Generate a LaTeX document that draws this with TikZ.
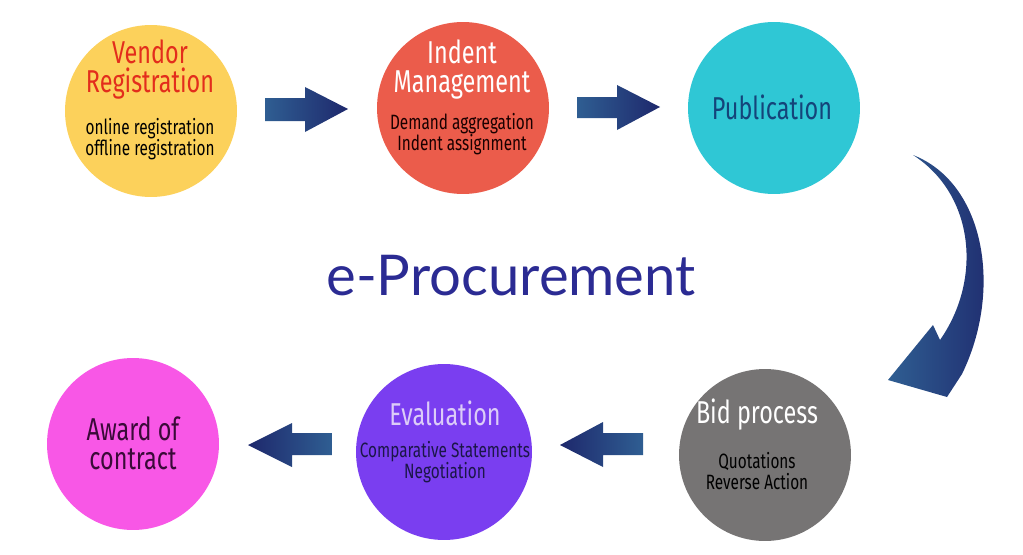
\documentclass[tikz,border=0pt]{standalone}
\usepackage{fontspec}
\usetikzlibrary{}
\newfontfamily\condfont[FakeStretch=0.74]{Fira Sans}
\newfontfamily\headfont{Lato}

\definecolor{vendorclr}{HTML}{FCD15B}
\definecolor{vendorred}{HTML}{E32D1C}
\definecolor{indentclr}{HTML}{EB5C4B}
\definecolor{pubclr}{HTML}{2FC7D5}
\definecolor{pubtext}{HTML}{14447A}
\definecolor{bidclr}{HTML}{767474}
\definecolor{evalclr}{HTML}{7A3EF0}
\definecolor{evaltitle}{HTML}{DCCCF8}
\definecolor{evaltext}{HTML}{1B1648}
\definecolor{awardclr}{HTML}{F857E6}
\definecolor{awardtext}{HTML}{3A0A38}
\definecolor{headclr}{HTML}{2B2B93}
\definecolor{arrowlight}{HTML}{2F5E92}
\definecolor{arrowdark}{HTML}{1E286C}

\tikzset{
    stage/.style={circle, minimum size=3.44cm, inner sep=0pt},
    title/.style={align=center, inner sep=1pt, font=\condfont\fontsize{18}{16.5}\selectfont},
    detail/.style={align=center, inner sep=1pt, font=\condfont\fontsize{11.8}{12}\selectfont},
    rightarrow/.style={left color=arrowlight, right color=arrowdark},
    leftarrow/.style={left color=arrowdark, right color=arrowlight}
}

\begin{document}
\begin{tikzpicture}[x=0.02cm, y=-0.02cm]

    \useasboundingbox (0,0) rectangle (1023,554);

    % Circles
    \node[stage, fill=vendorclr] (vendor) at (151,111) {};
    \node[stage, fill=indentclr] (indent) at (463,108) {};
    \node[stage, fill=pubclr] (pub) at (774,108) {};
    \node[stage, fill=bidclr] (bid) at (765,455) {};
    \node[stage, fill=evalclr, minimum size=3.52cm] (eval) at (444,452) {};
    \node[stage, fill=awardclr] (award) at (133,444) {};

    % Text
    \node[title, text=vendorred] (vendortitle) at (150,70) {Vendor\\Registration};
    \node[detail, text=black] (vendordetail) at (150,139) {online registration\\offline registration};

    \node[title, text=white] (indenttitle) at (462,70) {Indent\\Management};
    \node[detail, text=black!90!red] (indentdetail) at (462,134) {Demand aggregation\\Indent assignment};

    \node[title, text=pubtext] (pubtitle) at (772,107) {Publication};

    \node[title, text=white] (bidtitle) at (757,415) {Bid process};
    \node[detail, text=black] (biddetail) at (757,471) {Quotations\\Reverse Action};

    \node[title, text=evaltitle] (evaltitle) at (445,413) {Evaluation};
    \node[detail, text=evaltext] (evaldetail) at (445,462) {Comparative Statements\\Negotiation};

    \node[title, text=awardtext] (awardtitle) at (133,443) {Award of\\contract};

    \node[text=headclr, font=\headfont\fontsize{32}{36}\selectfont] (head) at (511,276) {e-Procurement};

    % Arrows
    \shade[rightarrow] (265,98) -- (305,98) -- (305,87) -- (348,109) -- (305,132) -- (305,121) -- (265,121) -- cycle;
    \shade[rightarrow] (577,97) -- (617,97) -- (617,85) -- (660,107) -- (617,130) -- (617,118) -- (577,118) -- cycle;
    \shade[leftarrow] (643,433) -- (603,433) -- (603,422) -- (560,445) -- (603,467) -- (603,455) -- (643,455) -- cycle;
    \shade[leftarrow] (332,433) -- (292,433) -- (292,423) -- (248,445) -- (292,467) -- (292,455) -- (332,455) -- cycle;

    \shade[rightarrow] (913,155) .. controls (985,183) and (1003,290) .. (962,374)
        -- (947,397) -- (888,380) -- (933,325) -- (940,340)
        .. controls (982,280) and (975,195) .. (913,155) -- cycle;

\end{tikzpicture}
\end{document}
